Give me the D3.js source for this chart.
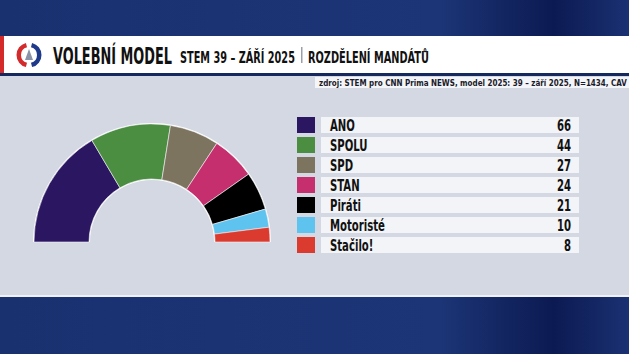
<!DOCTYPE html>
<html>
<head>
<meta charset="utf-8">
<script src="https://cdn.jsdelivr.net/npm/d3@7"></script>
<style>
  body { margin: 0; background: #1c3473; }
  svg { display: block; }
</style>
</head>
<body>
<div id="chart"></div>
<script>
var parties = ['ANO', 'SPOLU', 'SPD', 'STAN', 'Piráti', 'Motoristé', 'Stačilo!'];
var seats = [66, 44, 27, 24, 21, 10, 8];
var colors = ['#2a1661', '#4b8d41', '#7c745f', '#c62f6d', '#000000', '#5ec4ef', '#db3a2f'];

var W = 629, H = 354;
var font = "'DejaVu Sans Condensed', 'Liberation Sans', sans-serif";

var svg = d3.select('#chart')
  .append('svg')
    .attr('width', W)
    .attr('height', H);

// text squeezed horizontally by k, anchored at (x, y)
function squeezed(x, y, k, anchor) {
  return svg.append('g')
    .attr('transform', 'translate(' + x + ',' + y + ') scale(' + k + ',1)')
    .append('text')
      .attr('text-anchor', anchor || 'start')
      .style('font-family', font)
      .style('font-weight', 'bold')
      .style('fill', '#111');
}

var defs = svg.append('defs');
var bg = defs.append('linearGradient').attr('id', 'blue').attr('x1', 0).attr('x2', 1);
bg.append('stop').attr('offset', '0%').attr('stop-color', '#1a3170');
bg.append('stop').attr('offset', '70%').attr('stop-color', '#1c3576');
bg.append('stop').attr('offset', '88%').attr('stop-color', '#0c1a52');
bg.append('stop').attr('offset', '100%').attr('stop-color', '#1a3172');

svg.append('rect').attr('width', W).attr('height', H).style('fill', 'url(#blue)');

// grey panel
svg.append('rect')
  .attr('x', 0).attr('y', 74)
  .attr('width', W).attr('height', 222)
  .style('fill', '#d3d8e2');
svg.append('rect')
  .attr('x', 0).attr('y', 295)
  .attr('width', W).attr('height', 2)
  .style('fill', '#eef1f6');

// header band
svg.append('rect')
  .attr('x', 0).attr('y', 36)
  .attr('width', W).attr('height', 37)
  .style('fill', '#ffffff');
svg.append('rect')
  .attr('x', 0).attr('y', 73)
  .attr('width', W).attr('height', 3)
  .style('fill', '#16295e');
svg.append('rect')
  .attr('x', 0).attr('y', 36)
  .attr('width', 4).attr('height', 37)
  .style('fill', '#d42a2a');

// logo
var logo = svg.append('g').attr('transform', 'translate(29,55)');
var logoArc = d3.arc().innerRadius(8).outerRadius(12.5);
logo.append('path')
  .attr('d', logoArc({ startAngle: Math.PI + 0.25, endAngle: 2 * Math.PI - 0.25 }))
  .style('fill', '#d32b2b');
logo.append('path')
  .attr('d', logoArc({ startAngle: 0.25, endAngle: Math.PI - 0.25 }))
  .style('fill', '#1f3a8a');
logo.append('path')
  .attr('d', 'M0,-6 L4,5 L-4,5 Z')
  .style('fill', '#8a93a8');

// title pieces, each fitted to the width seen in the broadcast
function fitText(x, y, size, str, width) {
  var t = squeezed(x, y, 1).style('font-size', size + 'px').text(str);
  var k = width / t.node().getComputedTextLength();
  d3.select(t.node().parentNode).attr('transform', 'translate(' + x + ',' + y + ') scale(' + k + ',1)');
  return t;
}

fitText(53, 63.5, 23, 'VOLEBNÍ MODEL', 119);
fitText(180, 63, 15, 'STEM 39 – ZÁŘÍ 2025', 115);

svg.append('rect')
  .attr('x', 301).attr('y', 47)
  .attr('width', 1.5).attr('height', 16)
  .style('fill', '#9aa0aa');

fitText(308, 63, 15, 'ROZDĚLENÍ MANDÁTŮ', 121);

// source strip (text runs to the right edge as in the broadcast)
svg.append('rect')
  .attr('x', 315).attr('y', 77)
  .attr('width', W - 315).attr('height', 11)
  .style('fill', '#f3f5f8');
fitText(319, 85.5, 8.6, 'zdroj: STEM pro CNN Prima NEWS, model 2025: 39 – září 2025, N=1434, CAV', 308)
  .style('fill', '#1a1a2a');

// hemicycle
var cx = 152, cy = 242;
var pie = d3.pie()
  .sort(null)
  .startAngle(-Math.PI / 2)
  .endAngle(Math.PI / 2);
var arc = d3.arc()
  .innerRadius(63)
  .outerRadius(118);

var hemi = svg.append('g').attr('transform', 'translate(' + cx + ',' + cy + ')');
hemi.append('path')
  .attr('d', d3.arc().innerRadius(62).outerRadius(119)({ startAngle: -Math.PI / 2, endAngle: Math.PI / 2 }))
  .style('fill', '#ffffff');
hemi.selectAll('path.seg')
  .data(pie(seats))
  .enter().append('path')
    .attr('class', 'seg')
    .attr('d', arc)
    .style('fill', function(d, i) { return colors[i]; })
    .style('stroke', '#f4f4f6')
    .style('stroke-width', 0.6);

// legend
var y = d3.scaleBand()
  .domain(parties)
  .range([115, 115 + 20 * parties.length])
  .paddingInner(0.2)
  .paddingOuter(0.1);

svg.selectAll('rect.swatch')
  .data(parties)
  .enter().append('rect')
    .attr('class', 'swatch')
    .attr('x', 297)
    .attr('y', function(d) { return y(d); })
    .attr('width', 18)
    .attr('height', y.bandwidth())
    .style('fill', function(d, i) { return colors[i]; });

svg.selectAll('rect.bar')
  .data(parties)
  .enter().append('rect')
    .attr('class', 'bar')
    .attr('x', 321)
    .attr('y', function(d) { return y(d); })
    .attr('width', 258)
    .attr('height', y.bandwidth())
    .style('fill', '#f2f4f7');

// condense legend text so that "Motoristé" is about 55px wide
var probe = squeezed(0, -50, 1).style('font-size', '15px').text('Motoristé');
var k = 55 / probe.node().getComputedTextLength();
d3.select(probe.node().parentNode).remove();

parties.forEach(function(p, i) {
  squeezed(330, y(p) + 13.5, k).style('font-size', '15px').text(p);
  squeezed(571, y(p) + 13.5, k, 'end').style('font-size', '15px').text(seats[i]);
});
</script>
</body>
</html>
